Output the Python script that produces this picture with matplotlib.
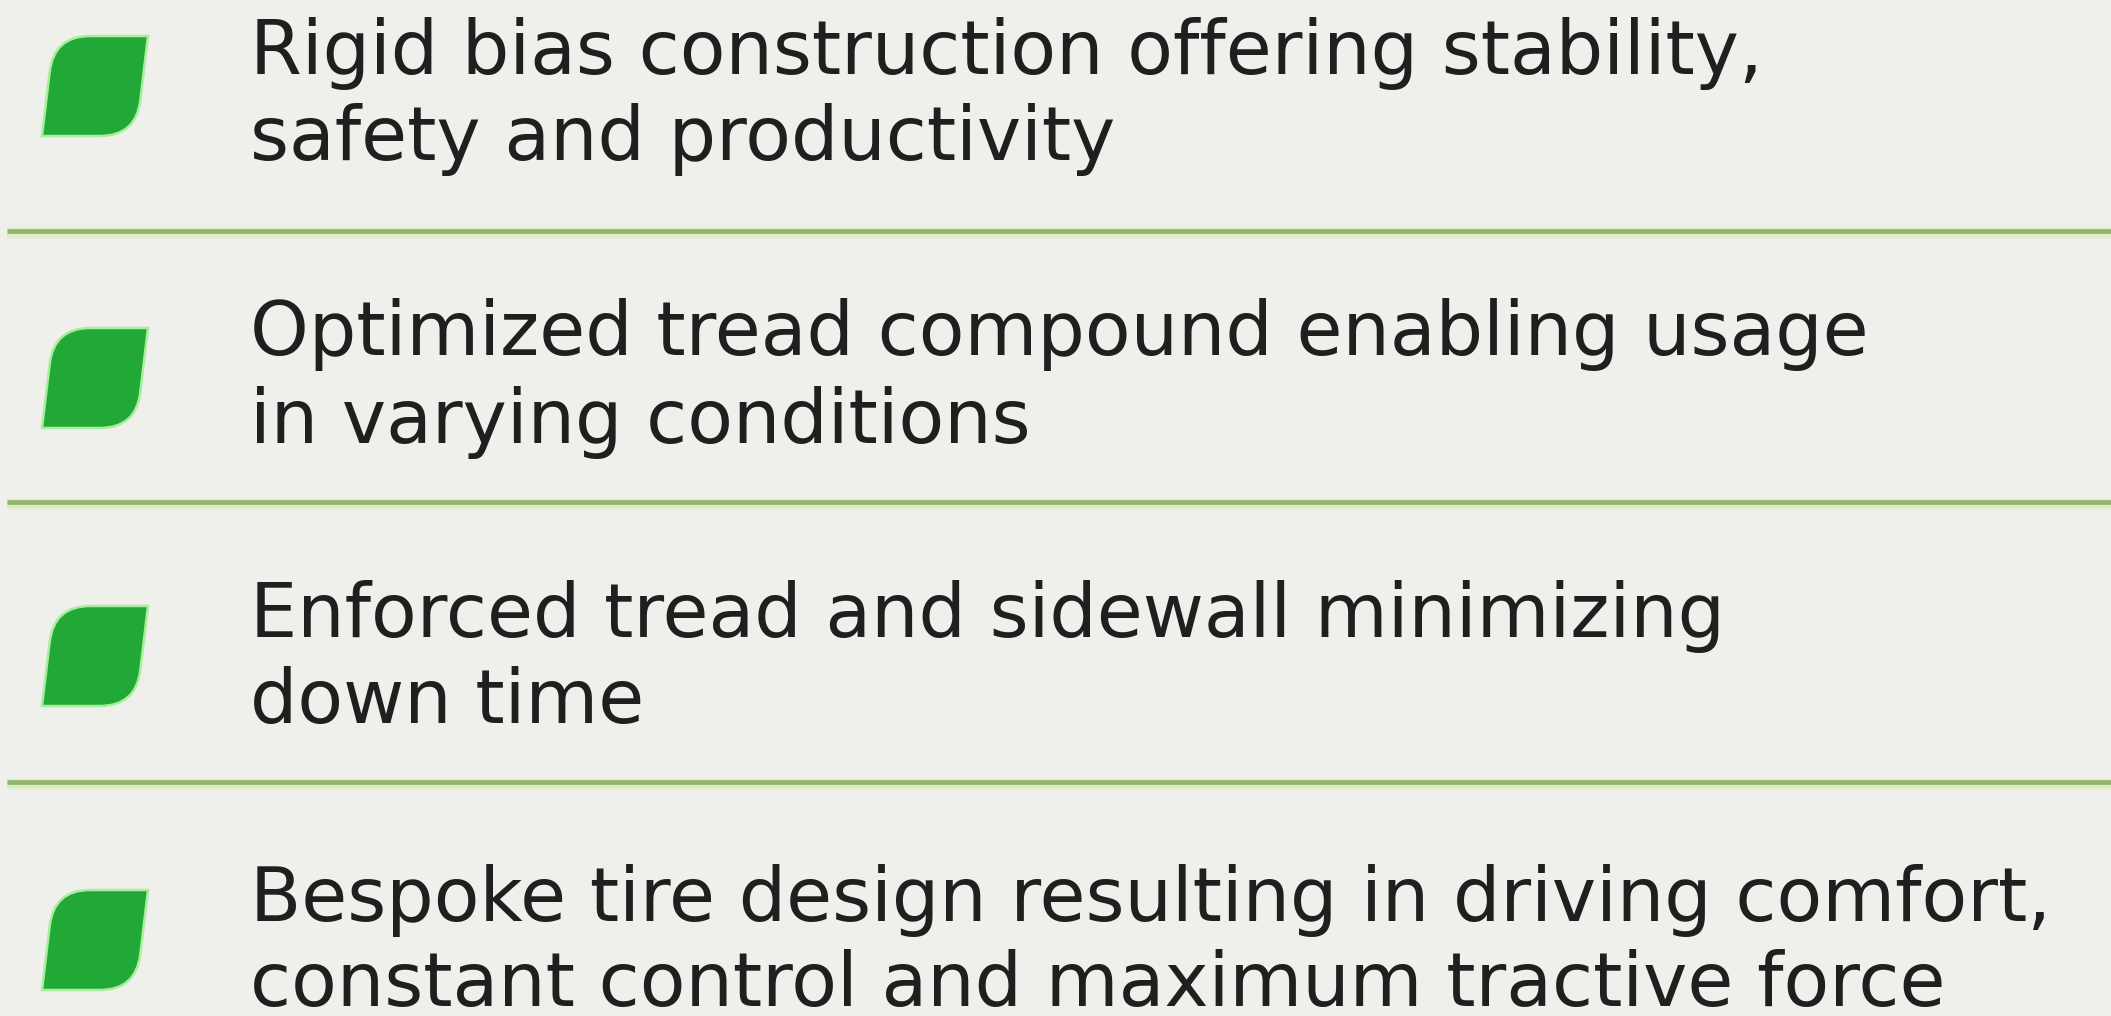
import matplotlib
matplotlib.use("Agg")
import matplotlib.pyplot as plt
from matplotlib.path import Path
from matplotlib.patches import PathPatch
import numpy as np

# ---- content ----
item_lines = [
    ["Rigid bias construction offering stability,", "safety and productivity"],
    ["Optimized tread compound enabling usage", "in varying conditions"],
    ["Enforced tread and sidewall minimizing", "down time"],
    ["Bespoke tire design resulting in driving comfort,",
     "constant control and maximum tractive force"],
]
# ---- layout (pixel coordinates, y downward) ----
baselines = [(74, 160), (355, 443), (637, 723), (921, 1006)]
icon_tops = [36, 328, 606, 890]
divider_y = [231, 502, 782]

W, H = 2111, 1016
BG = "#efefec"
GREEN = "#22a836"
GLOW = "#a8ee9e"
LINE = "#92b46c"
HALO = "#dbeec6"
TEXT = "#1f1f1f"
FONT = ["DejaVu Sans"]

fig = plt.figure(figsize=(W / 100, H / 100), dpi=100, facecolor=BG)
ax = fig.add_axes([0, 0, 1, 1])
ax.set_xlim(0, W)
ax.set_ylim(H, 0)
ax.set_facecolor(BG)
ax.axis("off")


def icon_path(top, h=100, x_bl=42, skew=12, w=94, r=36):
    TL = np.array([x_bl + skew, top])
    TR = np.array([x_bl + skew + w, top])
    BR = np.array([x_bl + w, top + h])
    BL = np.array([x_bl, top + h])

    def toward(a, b, d):
        v = b - a
        return a + v * d / np.linalg.norm(v)

    P1 = toward(BR, TR, r)
    P2 = toward(BR, BL, r)
    P3 = toward(TL, BL, r)
    P4 = toward(TL, TR, r)
    verts = [TR, P1, BR, P2, BL, P3, TL, P4, TR]
    codes = [Path.MOVETO, Path.LINETO, Path.CURVE3, Path.CURVE3, Path.LINETO,
             Path.LINETO, Path.CURVE3, Path.CURVE3, Path.CLOSEPOLY]
    return Path(verts, codes)


for t in icon_tops:
    ax.add_patch(PathPatch(icon_path(t), facecolor=GREEN, edgecolor=GLOW,
                           lw=1.8, zorder=3))

for y in divider_y:
    ax.plot([7, W], [y + 2, y + 2], color=HALO, lw=7.5, solid_capstyle="butt", zorder=1)
    ax.plot([7, W], [y, y], color=LINE, lw=3.4, solid_capstyle="butt", zorder=2)

# text, fitted so the longest line spans the reference width
texts = []
for lines, bls in zip(item_lines, baselines):
    for s, b in zip(lines, bls):
        texts.append(ax.text(250, b, s, fontsize=50, family=FONT, color=TEXT,
                             va="baseline", ha="left", zorder=4))

fig.canvas.draw()
r = fig.canvas.get_renderer()
target = 2056 - 252
widest = max(t.get_window_extent(r).width for t in texts)
fs = 50 * target / widest
for t in texts:
    t.set_fontsize(fs)

fig.savefig("out.png", dpi=100, facecolor=BG)
